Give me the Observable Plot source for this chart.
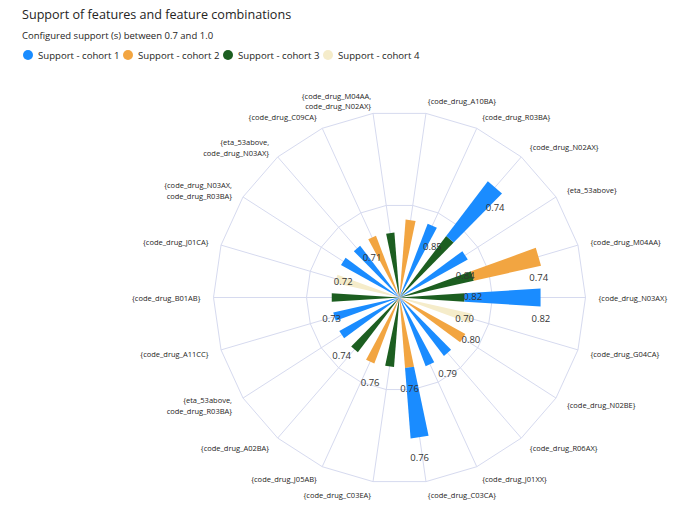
<!DOCTYPE html>
<html>
<head>
<meta charset="utf-8">
<script src="https://cdn.jsdelivr.net/npm/d3@7"></script>
<script src="https://cdn.jsdelivr.net/npm/@observablehq/plot@0.6"></script>
<style>
  body { margin: 0; background: #fff; font-family: "Segoe UI", "Open Sans", sans-serif; color: #252423; }
  #wrap { position: relative; width: 677px; height: 518px; overflow: hidden; }
  #title { position: absolute; left: 22px; top: 6px; font-size: 12.6px; white-space: nowrap; }
  #subtitle { position: absolute; left: 22px; top: 29px; font-size: 9.5px; white-space: nowrap; }
  #legend { position: absolute; left: 0; top: 47px; width: 677px; height: 16px; font-size: 9.6px; }
  #legend .item { position: absolute; top: 0; display: flex; align-items: center; height: 16px; white-space: nowrap; }
  #legend .dot { width: 10px; height: 10px; border-radius: 50%; margin-right: 5px; flex: none; }
  #chart { position: absolute; left: 0; top: 66px; }
</style>
</head>
<body>
<div id="wrap">
  <div id="title">Support of features and feature combinations</div>
  <div id="subtitle">Configured support (s) between 0.7 and 1.0</div>
  <div id="legend"></div>
  <div id="chart"></div>
</div>
<script>
// Feature sets, in angular order (counter-clockwise from the right)
const categories = [
  "{code_drug_N03AX}", "{code_drug_M04AA}", "{eta_53above}", "{code_drug_N02AX}",
  "{code_drug_R03BA}", "{code_drug_A10BA}", "{code_drug_M04AA, code_drug_N02AX}",
  "{code_drug_C09CA}", "{eta_53above, code_drug_N03AX}", "{code_drug_N03AX, code_drug_R03BA}",
  "{code_drug_J01CA}", "{code_drug_B01AB}", "{code_drug_A11CC}", "{eta_53above, code_drug_R03BA}",
  "{code_drug_A02BA}", "{code_drug_J05AB}", "{code_drug_C03EA}", "{code_drug_C03CA}",
  "{code_drug_J01XX}", "{code_drug_R06AX}", "{code_drug_N02BE}", "{code_drug_G04CA}"
];

const seriesNames = ["Support - cohort 1", "Support - cohort 2", "Support - cohort 3", "Support - cohort 4"];

const cohort1 = [0.82, null, 0.84, 0.74, 0.85, null, null, null, 0.70, 0.72, null, null, 0.73, 0.74, null, null, null, 0.76, 0.79, 0.79, null, null];
const cohort2 = [null, 0.74, null, null, null, 0.84, null, 0.71, null, null, null, null, null, null, null, 0.76, null, 0.76, null, null, 0.81, null];
const cohort3 = [0.70, 0.82, null, 0.83, null, null, 0.70, null, null, null, null, 0.73, null, null, 0.74, null, 0.75, null, null, null, null, null];
const cohort4 = [null, null, null, null, null, null, null, null, null, null, 0.71, null, null, null, null, null, null, null, null, null, null, 0.80];

// Segments whose support value is printed next to the bar: [feature set, cohort number]
const labelled = [
  ["{code_drug_N03AX}", 3], ["{code_drug_N03AX}", 1], ["{code_drug_M04AA}", 3], ["{code_drug_M04AA}", 2],
  ["{eta_53above}", 1], ["{code_drug_N02AX}", 1], ["{code_drug_R03BA}", 1], ["{code_drug_C09CA}", 2],
  ["{code_drug_N03AX, code_drug_R03BA}", 1], ["{code_drug_B01AB}", 3], ["{eta_53above, code_drug_R03BA}", 1],
  ["{code_drug_J05AB}", 2], ["{code_drug_C03CA}", 2], ["{code_drug_C03CA}", 1], ["{code_drug_R06AX}", 1],
  ["{code_drug_G04CA}", 4]
];

const colors = ["#1a8cff", "#f2a541", "#1c5e20", "#f5ecca"];
const gridColor = "#d6daef";
const font = '"Segoe UI", "Open Sans", sans-serif';

// Legend: circle swatches, one slot every 100px
const legend = document.getElementById("legend");
seriesNames.forEach((name, i) => {
  const item = document.createElement("div");
  item.className = "item";
  item.style.left = (23 + i * 100) + "px";
  const dot = document.createElement("span");
  dot.className = "dot";
  dot.style.background = colors[i];
  item.appendChild(dot);
  item.appendChild(document.createTextNode(name));
  legend.appendChild(item);
});

// Polar layout: angle -> longitude, radius -> distance from the pole
const n = categories.length;
const step = 360 / n;
const rMax = 2;
const angleOf = (i) => i * step;
const lon = (i) => 90 + angleOf(i);
const lat = (r) => 90 - r;
const halfWidth = step * 0.45 / 2;

// Stack the cohorts per feature set, cohort 4 innermost
const series = [cohort1, cohort2, cohort3, cohort4];
const stackOrder = [3, 2, 1, 0];
const segments = [];
categories.forEach((cat, i) => {
  let r0 = 0;
  for (const s of stackOrder) {
    const v = series[s][i];
    if (v == null) continue;
    segments.push({cat, i, cohort: s + 1, series: seriesNames[s], value: v, r0, r1: r0 + v});
    r0 += v;
  }
});

function wedge(d) {
  const l = lon(d.i);
  let ring;
  if (d.r0 === 0) {
    ring = [[l, 90], [l - halfWidth, lat(d.r1)], [l + halfWidth, lat(d.r1)], [l, 90]];
  } else {
    ring = [[l - halfWidth, lat(d.r0)], [l - halfWidth, lat(d.r1)], [l + halfWidth, lat(d.r1)],
            [l + halfWidth, lat(d.r0)], [l - halfWidth, lat(d.r0)]];
  }
  let f = {type: "Feature", properties: d, geometry: {type: "Polygon", coordinates: [ring]}};
  if (d3.geoArea(f) > 2 * Math.PI) {
    f = {type: "Feature", properties: d, geometry: {type: "Polygon", coordinates: [ring.slice().reverse()]}};
  }
  return f;
}
const wedges = segments.map(wedge);

// Grid: polygon rings at r = 1 and r = 2, spokes at every category
const ringPoints = [];
for (const r of [1, 2]) {
  for (let i = 0; i <= n; i++) ringPoints.push({ring: r, lon: lon(i % n), lat: lat(r)});
}
const spokes = categories.map((c, i) => ({lon: lon(i)}));

// Category labels just outside the outer ring
const labelR = rMax + 0.14;
const catLabels = categories.map((c, i) => ({
  text: c.replace(", ", ",\n"),
  lon: lon(i),
  lat: lat(labelR),
  cos: Math.cos(angleOf(i) * Math.PI / 180)
}));

const valueLabels = segments
  .filter((d) => labelled.some(([c, k]) => c === d.cat && k === d.cohort))
  .map((d) => ({lon: lon(d.i), lat: lat(d.r1), text: d.value.toFixed(2)}));

const catText = {x: "lon", y: "lat", text: "text", lineAnchor: "middle", lineHeight: 1.4, fontSize: 7.5, fill: "#252423"};

const chart = Plot.plot({
  width: 677,
  height: 452,
  marginLeft: 213,
  marginRight: 92,
  marginTop: 45,
  marginBottom: 35,
  style: {fontFamily: font, background: "transparent"},
  projection: {
    type: "azimuthal-equidistant",
    rotate: [0, -90],
    domain: d3.geoCircle().center([0, 90]).radius(rMax).precision(1)(),
    clip: false
  },
  color: {domain: seriesNames, range: colors},
  marks: [
    Plot.line(ringPoints, {x: "lon", y: "lat", z: "ring", stroke: gridColor, strokeWidth: 1}),
    Plot.link(spokes, {x1: "lon", y1: () => 90, x2: "lon", y2: () => lat(rMax), stroke: gridColor, strokeWidth: 1}),
    Plot.geo(wedges, {fill: (d) => d.properties.series, stroke: "none"}),
    Plot.text(valueLabels, {x: "lon", y: "lat", text: "text", dy: 21, fontSize: 9.5, fill: "#333"}),
    Plot.text(catLabels.filter((d) => d.cos > 0.01), {...catText, textAnchor: "start"}),
    Plot.text(catLabels.filter((d) => d.cos < -0.01), {...catText, textAnchor: "end"}),
    Plot.text(catLabels.filter((d) => Math.abs(d.cos) <= 0.01), {...catText, textAnchor: "middle"})
  ]
});
document.getElementById("chart").appendChild(chart);
</script>
</body>
</html>
